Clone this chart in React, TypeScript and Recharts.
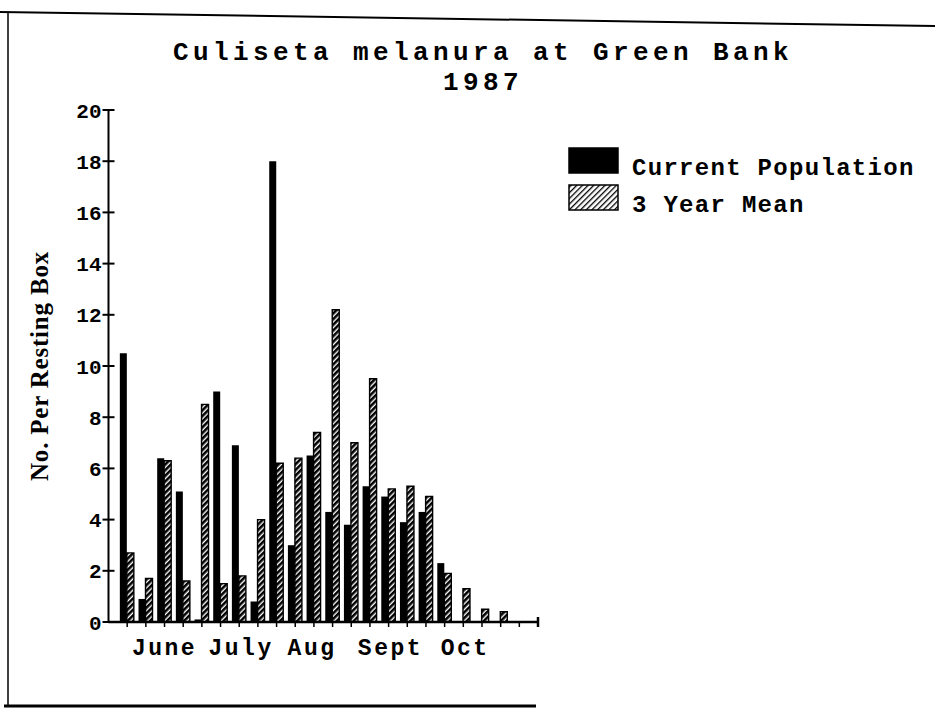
import React from 'react';
import { BarChart, Bar, XAxis, YAxis, Legend } from 'recharts';

// weekly collections, June to October 1987
const weeks = [1, 2, 3, 4, 5, 6, 7, 8, 9, 10, 11, 12, 13, 14, 15, 16, 17, 18, 19, 20, 21];
const currentPopulation = [10.5, 0.9, 6.4, 5.1, 0.1, 9.0, 6.9, 0.8, 18.0, 3.0, 6.5, 4.3, 3.8, 5.3, 4.9, 3.9, 4.3, 2.3, 0, 0, 0];
const threeYearMean = [2.7, 1.7, 6.3, 1.6, 8.5, 1.5, 1.8, 4.0, 6.2, 6.4, 7.4, 12.2, 7.0, 9.5, 5.2, 5.3, 4.9, 1.9, 1.3, 0.5, 0.4];

const seriesKeys = ['current', 'mean'];
const seriesNames = ['Current Population', '3 Year Mean'];

const weekTicks = [1, 2, 3, 4, 5, 6, 7, 8, 9, 10, 11, 12, 13, 14, 15, 16, 17, 18, 19, 20, 21, 22, 23];
const yTicks = [0, 2, 4, 6, 8, 10, 12, 14, 16, 18, 20];
const monthNames = ['June', 'July', 'Aug', 'Sept', 'Oct'];
const monthPositions = [3, 7.1, 10.9, 15.1, 19.1];

const data = weeks.map((x, i) => ({
  x,
  current: currentPopulation[i],
  mean: threeYearMean[i],
}));

const MONO = '"Courier New", "Liberation Mono", monospace';
const SERIF = '"Liberation Serif", "Times New Roman", serif';

const YTick = (props: any) => {
  const { x, y, payload } = props;
  return (
    <g>
      <line x1={x - 6} x2={x + 6} y1={y} y2={y} stroke="#000" strokeWidth={2} />
      <text x={x - 7} y={y} dy="0.36em" textAnchor="end" fontFamily={MONO} fontWeight="bold" fontSize={21} fill="#000">
        {payload.value}
      </text>
    </g>
  );
};

const WeekTick = (props: any) => {
  const { x, y, payload } = props;
  const isEnd = payload.value === weekTicks[weekTicks.length - 1];
  return (
    <line x1={x} x2={x} y1={isEnd ? y - 5 : y} y2={y + 5} stroke="#000" strokeWidth={isEnd ? 2.5 : 1.5} />
  );
};

const MonthTick = (props: any) => {
  const { x, y, payload } = props;
  const name = monthNames[monthPositions.indexOf(payload.value)];
  return (
    <text x={x} y={y + 21} textAnchor="middle" fontFamily={MONO} fontWeight="bold" fontSize={23} letterSpacing={2.5} fill="#000">
      {name}
    </text>
  );
};

const YLabel = (props: any) => {
  const { viewBox } = props;
  const cx = viewBox.x + 28;
  const cy = viewBox.y + viewBox.height / 2;
  return (
    <text
      x={cx}
      y={cy}
      transform={`rotate(-90, ${cx}, ${cy})`}
      textAnchor="middle"
      fontFamily={SERIF}
      fontWeight="bold"
      fontSize={25}
      letterSpacing={0.8}
      fill="#000"
    >
      No. Per Resting Box
    </text>
  );
};

const LegendBox = ({ payload }: any) => {
  const items = [...(payload || [])].sort(
    (a: any, b: any) => seriesKeys.indexOf(a.dataKey) - seriesKeys.indexOf(b.dataKey)
  );
  return (
    <svg width={370} height={80} style={{ overflow: 'visible' }}>
      <defs>
        <pattern id="legendHatch" patternUnits="userSpaceOnUse" width={4} height={4} patternTransform="rotate(45)">
          <rect x={0} y={0} width={1.3} height={4} fill="#000" />
        </pattern>
      </defs>
      {items.map((item: any, i: number) => (
        <g key={item.value}>
          <rect
            x={31}
            y={4 + i * 37}
            width={49}
            height={25}
            fill={item.dataKey === 'current' ? '#000' : 'url(#legendHatch)'}
            stroke="#000"
            strokeWidth={1.5}
          />
          <text x={94} y={31 + i * 37} fontFamily={MONO} fontWeight="bold" fontSize={24} letterSpacing={1.3} fill="#000">
            {item.value}
          </text>
        </g>
      ))}
    </svg>
  );
};

export default function App() {
  return (
    <div style={{ position: 'absolute', left: 0, top: 0, width: 935, height: 709, background: '#fff' }}>
      <svg width={0} height={0} style={{ position: 'absolute' }}>
        <defs>
          <pattern id="barHatch" patternUnits="userSpaceOnUse" width={4} height={4} patternTransform="rotate(45)">
            <rect x={0} y={0} width={4} height={4} fill="#fff" />
            <rect x={0} y={0} width={2.6} height={4} fill="#000" />
          </pattern>
        </defs>
      </svg>

      <BarChart
        width={935}
        height={709}
        data={data}
        margin={{ top: 110, right: 27, bottom: 35, left: 20 }}
        barGap={0}
        barSize={7}
      >
        <YAxis
          width={88.5}
          domain={[0, 20]}
          ticks={yTicks}
          interval={0}
          tickSize={0}
          tickMargin={0}
          tickLine={false}
          tick={YTick}
          axisLine={{ stroke: '#000', strokeWidth: 2 }}
          label={{ content: YLabel }}
        />
        <XAxis
          dataKey="x"
          type="number"
          domain={[0, 23]}
          ticks={weekTicks}
          interval={0}
          height={12}
          tickSize={0}
          tickMargin={0}
          tickLine={false}
          tick={WeekTick}
          axisLine={{ stroke: '#000', strokeWidth: 2.5 }}
        />
        <XAxis
          xAxisId="months"
          dataKey="x"
          type="number"
          domain={[0, 23]}
          ticks={monthPositions}
          interval={0}
          height={40}
          tickSize={0}
          tickMargin={0}
          tickLine={false}
          axisLine={false}
          tick={MonthTick}
        />
        <Legend
          layout="vertical"
          align="right"
          verticalAlign="top"
          width={370}
          height={80}
          wrapperStyle={{ top: 144 }}
          content={(p: any) => <LegendBox payload={p.payload} />}
        />
        <Bar dataKey={seriesKeys[0]} name={seriesNames[0]} fill="#000" isAnimationActive={false} />
        <Bar
          dataKey={seriesKeys[1]}
          name={seriesNames[1]}
          fill="url(#barHatch)"
          stroke="#000"
          strokeWidth={1.4}
          isAnimationActive={false}
        />
      </BarChart>

      <svg width={935} height={709} style={{ position: 'absolute', left: 0, top: 0, pointerEvents: 'none' }}>
        <line x1={0} y1={12} x2={935} y2={26} stroke="#000" strokeWidth={2} />
        <line x1={8} y1={13} x2={8} y2={707} stroke="#000" strokeWidth={1.5} />
        <line x1={4} y1={706} x2={536} y2={706} stroke="#000" strokeWidth={3} />
        <text x={483} y={60} textAnchor="middle" fontFamily={MONO} fontWeight="bold" fontSize={26} letterSpacing={4.4} fill="#000">
          Culiseta melanura at Green Bank
        </text>
        <text x={483} y={90} textAnchor="middle" fontFamily={MONO} fontWeight="bold" fontSize={26} letterSpacing={4.4} fill="#000">
          1987
        </text>
      </svg>
    </div>
  );
}
